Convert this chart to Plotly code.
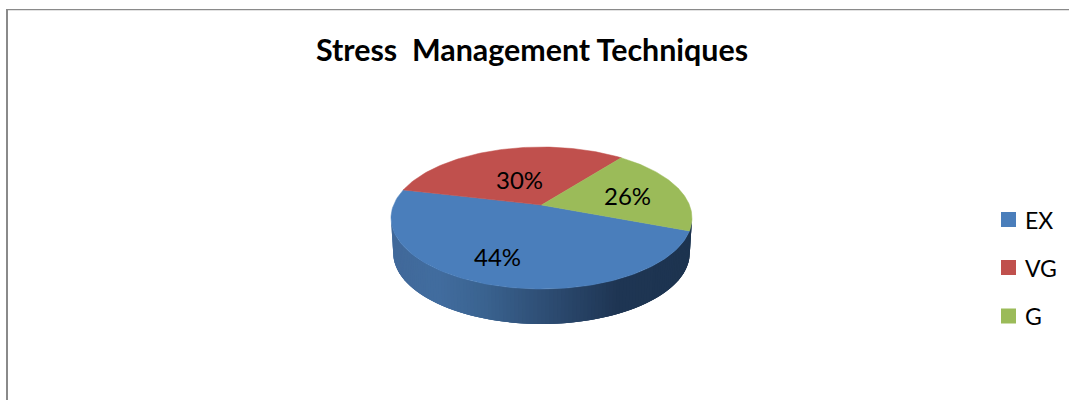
import numpy as np
import plotly.graph_objects as go

# ---- data ----
categories = ["EX", "VG", "G"]
percent_values = [44, 30, 26]

# ---- style ----
slice_colors = ["#4a7ebb", "#c0504d", "#9bbb59"]
FONT = "Lato"
W, H = 1069, 400
cx, cy, rx, ry = 541.5, 218.0, 150.5, 71.0      # top-face ellipse
hub_x, hub_y = 541.5, 205.0                     # where the slices meet (perspective)
depth = 35.0
start_deg = -30.0
warp_sin, warp_cos, warp_c = -13.84, 13.73, 0.69  # angular foreshortening of the 3-D view
label_pos = [(497, 256), (519, 179), (627, 195)]
legend_swatch_x = (1001, 1016)
legend_rows_y = [219.5, 267.5, 316]
legend_text_x = 1022.5
wall_stops = [(0.0, "#41699a"), (0.15, "#426d9f"), (0.3, "#3b6491"),
              (0.5, "#2f4f76"), (0.75, "#1f3654"), (1.0, "#1d3450")]


def rim(theta_deg):
    t = np.radians(theta_deg)
    phi = t + np.radians(warp_sin * np.sin(t) + warp_cos * np.cos(t) + warp_c)
    return cx + rx * np.cos(phi), cy - ry * np.sin(phi)


def hex_rgb(h):
    return np.array([int(h[i:i + 2], 16) for i in (1, 3, 5)], float)


def wall_color(f):
    xs = [s[0] for s in wall_stops]
    rgb = [np.interp(f, xs, [hex_rgb(s[1])[k] for s in wall_stops]) for k in range(3)]
    return "rgb(%d,%d,%d)" % tuple(rgb)


fig = go.Figure()

# side wall of the disc (front half): overlapping shaded strips, left to right
edges = np.linspace(np.pi, 2 * np.pi, 121)
step = edges[1] - edges[0]
for a in edges[:-1]:
    b = min(a + 3 * step, 2 * np.pi)
    arc = np.linspace(a, b, 5)
    xt, yt = cx + rx * np.cos(arc), cy - ry * np.sin(arc)
    xb, yb = cx + rx * 0.985 * np.cos(arc), cy + depth - ry * np.sin(arc)
    f = ((cx + rx * np.cos(a + step / 2)) - (cx - rx)) / (2 * rx)
    fig.add_trace(go.Scatter(
        x=np.r_[xt, xb[::-1], xt[0]], y=np.r_[yt, yb[::-1], yt[0]],
        mode="lines", fill="toself", fillcolor=wall_color(f), line=dict(width=0),
        hoverinfo="skip", showlegend=False))

# top-face slices, computed from the percentages
total = sum(percent_values)
cum = 0.0
for name, v, col in zip(categories, percent_values, slice_colors):
    t0 = start_deg - cum / total * 360
    t1 = start_deg - (cum + v) / total * 360
    th = np.linspace(t0, t1, 120)
    xr, yr = rim(th)
    fig.add_trace(go.Scatter(
        x=np.r_[hub_x, xr, hub_x], y=np.r_[hub_y, yr, hub_y],
        mode="lines", fill="toself", fillcolor=col, line=dict(color=col, width=0.5),
        name=name, showlegend=False,
        hovertemplate=f"{name}: {v}%<extra></extra>"))
    cum += v

annotations = [dict(x=x, y=y, xref="x", yref="y", text=f"{v}%", showarrow=False,
                    font=dict(family=FONT, size=24, color="#000000"))
               for (x, y), v in zip(label_pos, percent_values)]

shapes = [
    dict(type="line", xref="x", yref="y", x0=6, x1=W, y0=9.7, y1=9.7,
         line=dict(color="#8a8a8a", width=1.3)),
    dict(type="line", xref="x", yref="y", x0=7, x1=7, y0=9, y1=H,
         line=dict(color="#8a8a8a", width=2)),
]

# legend: swatch + label per category
for name, col, ry_ in zip(categories, slice_colors, legend_rows_y):
    shapes.append(dict(type="rect", xref="x", yref="y",
                       x0=legend_swatch_x[0], x1=legend_swatch_x[1],
                       y0=ry_ - 7.5, y1=ry_ + 7.5,
                       fillcolor=col, line=dict(width=0)))
    annotations.append(dict(x=legend_text_x, y=ry_, xref="x", yref="y", text=name,
                            xanchor="left", yanchor="middle", showarrow=False,
                            font=dict(family=FONT, size=23, color="#000000")))

fig.update_layout(
    width=W, height=H, autosize=False,
    margin=dict(l=0, r=0, t=0, b=0),
    paper_bgcolor="white", plot_bgcolor="white",
    showlegend=False,
    title=dict(text="<b>Stress  Management Techniques</b>", x=532 / W, xanchor="center",
               y=1 - 50 / H, yanchor="middle",
               font=dict(family=FONT, size=30.4, color="#000000")),
    xaxis=dict(range=[0, W], visible=False, fixedrange=True),
    yaxis=dict(range=[H, 0], visible=False, fixedrange=True),
    annotations=annotations,
    shapes=shapes,
)

fig.write_html("out.html", config=dict(displayModeBar=False),
               post_script="document.body.style.margin='0';")
